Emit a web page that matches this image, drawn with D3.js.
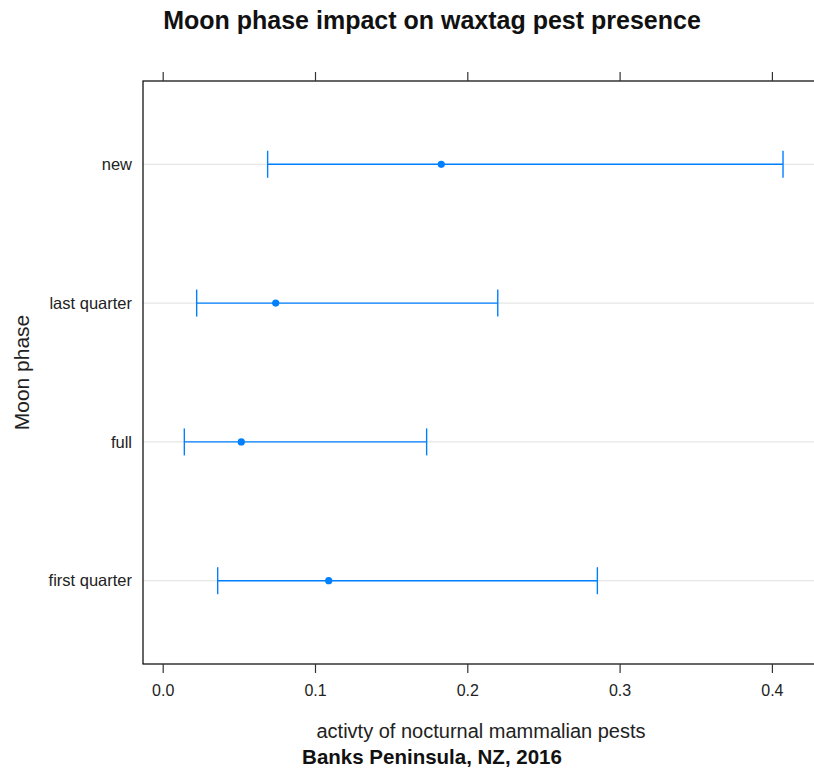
<!DOCTYPE html>
<html>
<head>
<meta charset="utf-8">
<script src="https://cdn.jsdelivr.net/npm/d3@7"></script>
<style>
  html, body { margin: 0; padding: 0; background: #fff; }
  svg { display: block; }
</style>
</head>
<body>
<svg id="chart" width="814" height="772"></svg>
<script>
// Moon phases, listed bottom to top
const phases = ["first quarter", "full", "last quarter", "new"];
// Estimated activity and its interval for each phase
const estimate = [0.1090, 0.0516, 0.0742, 0.1829];
const lower    = [0.0361, 0.0142, 0.0223, 0.0689];
const upper    = [0.2854, 0.1733, 0.2200, 0.4073];
const xTicks   = [0.0, 0.1, 0.2, 0.3, 0.4];

const titleText = "Moon phase impact on waxtag pest presence";
const xTitle = "activty of nocturnal mammalian pests";
const yTitle = "Moon phase";
const subTitle = "Banks Peninsula, NZ, 2016";

const svg = d3.select("#chart");
const blue = "#0080ff";
const sans = "'Liberation Sans', Arial, sans-serif";

// Panel box
const box = { left: 143, top: 81, bottom: 664 };

const x = d3.scaleLinear().domain([0, 0.4]).range([162.7, 771.9]);
const boxRight = x(0.44);

const y = d3.scalePoint()
  .domain(phases)
  .range([box.bottom, box.top])
  .padding(0.6);

// Reference lines across the panel
svg.append("g")
  .selectAll("line")
  .data(phases)
  .join("line")
  .attr("x1", box.left).attr("x2", boxRight)
  .attr("y1", d => y(d)).attr("y2", d => y(d))
  .attr("stroke", "#e6e6e6").attr("stroke-width", 1.2);

// Panel border
svg.append("rect")
  .attr("x", box.left).attr("y", box.top)
  .attr("width", boxRight - box.left).attr("height", box.bottom - box.top)
  .attr("fill", "none").attr("stroke", "#000").attr("stroke-width", 1.2);

// Bottom axis with tick labels
const xAxisBottom = d3.axisBottom(x).tickValues(xTicks).tickFormat(d3.format(".1f"))
  .tickSize(9).tickPadding(12);
const gb = svg.append("g").attr("transform", `translate(0,${box.bottom})`).call(xAxisBottom);
gb.select(".domain").remove();
gb.selectAll(".tick line").attr("stroke", "#333").attr("stroke-width", 1.2);
gb.selectAll(".tick text")
  .attr("font-family", sans)
  .attr("font-size", 16).attr("fill", "#222");

// Top axis: ticks only
const xAxisTop = d3.axisTop(x).tickValues(xTicks).tickFormat("").tickSize(9);
const gt = svg.append("g").attr("transform", `translate(0,${box.top})`).call(xAxisTop);
gt.select(".domain").remove();
gt.selectAll(".tick line").attr("stroke", "#333").attr("stroke-width", 1.2);

// Category labels
svg.append("g")
  .selectAll("text")
  .data(phases)
  .join("text")
  .attr("x", 132).attr("y", d => y(d))
  .attr("dy", "0.35em")
  .attr("text-anchor", "end")
  .attr("font-family", sans)
  .attr("font-size", 16.5).attr("fill", "#222")
  .text(d => d);

// Interval bars
const rows = phases.map((p, i) => ({ p, est: estimate[i], lo: lower[i], hi: upper[i] }));
const bars = svg.append("g");
bars.selectAll("line.span").data(rows).join("line")
  .attr("class", "span")
  .attr("x1", d => x(d.lo)).attr("x2", d => x(d.hi))
  .attr("y1", d => y(d.p)).attr("y2", d => y(d.p))
  .attr("stroke", blue).attr("stroke-width", 1.4);
bars.selectAll("line.capLo").data(rows).join("line")
  .attr("class", "capLo")
  .attr("x1", d => x(d.lo)).attr("x2", d => x(d.lo))
  .attr("y1", d => y(d.p) - 13.5).attr("y2", d => y(d.p) + 13.5)
  .attr("stroke", blue).attr("stroke-width", 1.4);
bars.selectAll("line.capHi").data(rows).join("line")
  .attr("class", "capHi")
  .attr("x1", d => x(d.hi)).attr("x2", d => x(d.hi))
  .attr("y1", d => y(d.p) - 13.5).attr("y2", d => y(d.p) + 13.5)
  .attr("stroke", blue).attr("stroke-width", 1.4);
bars.selectAll("circle").data(rows).join("circle")
  .attr("cx", d => x(d.est)).attr("cy", d => y(d.p))
  .attr("r", 3.6).attr("fill", blue);

// Titles
svg.append("text")
  .attr("x", 432).attr("y", 29)
  .attr("text-anchor", "middle")
  .attr("font-family", sans)
  .attr("font-weight", "bold").attr("font-size", 25).attr("fill", "#111")
  .text(titleText);

svg.append("text")
  .attr("x", 481).attr("y", 738)
  .attr("text-anchor", "middle")
  .attr("font-family", sans)
  .attr("font-size", 20).attr("fill", "#222")
  .text(xTitle);

svg.append("text")
  .attr("x", 432).attr("y", 764)
  .attr("text-anchor", "middle")
  .attr("font-family", sans)
  .attr("font-weight", "bold").attr("font-size", 20.5).attr("fill", "#111")
  .text(subTitle);

svg.append("text")
  .attr("transform", `translate(29,${(box.top + box.bottom) / 2}) rotate(-90)`)
  .attr("text-anchor", "middle")
  .attr("font-family", sans)
  .attr("font-size", 21).attr("fill", "#222")
  .text(yTitle);
</script>
</body>
</html>
